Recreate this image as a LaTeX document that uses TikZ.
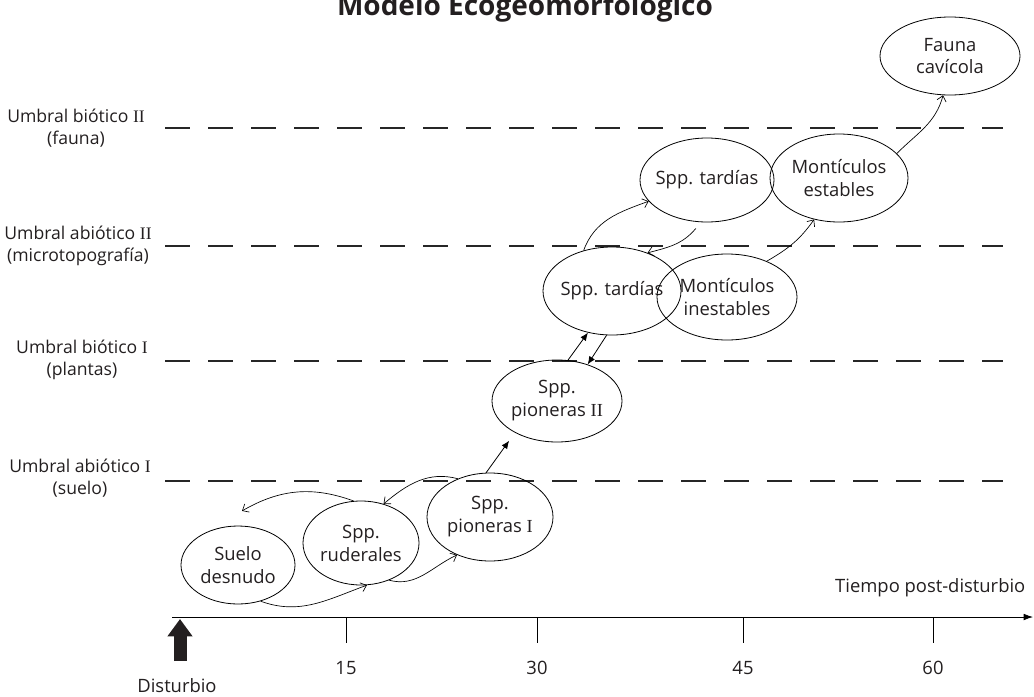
\documentclass[tikz,border=0pt]{standalone}
\usepackage{fontspec}
\setmainfont{Open Sans}
\newfontfamily\rn{Liberation Serif}
\usetikzlibrary{shapes.geometric,arrows.meta}
\definecolor{txt}{RGB}{35,31,32}
\begin{document}
\begin{tikzpicture}[x=0.75pt,y=-0.75pt,
 st/.style={ellipse,draw,line width=0.6pt,inner sep=0pt},
 lt/.style={align=center,font=\fontsize{13.8}{17.2}\selectfont,text=txt},
 thr/.style={line width=2.2pt,dash pattern=on 18.75pt off 13.5pt,color=black!85},
 lab/.style={align=center,font=\fontsize{13.2}{16.5}\selectfont,text=txt},
 cv/.style={-{Straight Barb[length=4pt,width=7pt]},line width=0.5pt},
 fl/.style={-{Latex[length=6pt,width=5pt]},line width=0.6pt},
 num/.style={font=\fontsize{13.8}{15}\selectfont,text=txt}]
\useasboundingbox (0,0) rectangle (1034,696);

% title
\node[anchor=base,font=\bfseries\fontsize{21}{22}\selectfont,text=txt] (title) at (525,15) {Modelo Ecogeomorfológico};

% thresholds
\draw[thr] (165,128) -- (1003,128);
\draw[thr] (165,246) -- (1003,246);
\draw[thr] (165,361) -- (1003,361);
\draw[thr] (165,481) -- (1003,481);
\node[lab] (l1) at (76,128) {Umbral biótico {\rn II}\\(fauna)};
\node[lab] (l2) at (78,246) {Umbral abiótico {\rn II}\\(microtopografía)};
\node[lab] (l3) at (82,360) {Umbral biótico {\rn I}\\(plantas)};
\node[lab] (l4) at (80,478) {Umbral abiótico {\rn I}\\(suelo)};

% states
\node[st,minimum width=85.5pt,minimum height=58.5pt,label={[lt]center:{Suelo\\desnudo}}] (suelo) at (238,565) {};
\node[st,minimum width=87pt,minimum height=63pt,label={[lt]center:{Spp.\\ruderales}}] (rud) at (361,543) {};
\node[st,minimum width=94.5pt,minimum height=66pt,label={[lt]center:{Spp.\\pioneras {\rn I}}}] (pI) at (490,517) {};
\node[st,minimum width=97.5pt,minimum height=61.5pt,label={[lt]center:{Spp.\\pioneras {\rn II}}}] (pII) at (557,401) {};
\node[st,minimum width=103.5pt,minimum height=66pt,label={[lt]center:{Spp. tardías}}] (T1) at (612,291) {};
\node[st,minimum width=105pt,minimum height=64.5pt,label={[lt]center:{Montículos\\inestables}}] (M1) at (727,297) {};
\node[st,minimum width=100.5pt,minimum height=63pt,label={[lt]center:{Spp. tardías}}] (T2) at (707,180) {};
\node[st,minimum width=103.5pt,minimum height=66pt,label={[lt]center:{Montículos\\estables}}] (M2) at (839,178) {};
\node[st,minimum width=105pt,minimum height=58.5pt,label={[lt]center:{Fauna\\cavícola}}] (F) at (950,56) {};

% transitions
\draw[cv] (rud.100) to[out=160,in=30] ([xshift=3pt,yshift=11pt]suelo.north);
\draw[cv] (pI.130) to[out=165,in=40] (rud.60);
\draw[cv] (suelo.-58) to[out=-20,in=200] (rud.-82);
\draw[cv] (rud.-53) to[out=-15,in=205] (pI.-131);
\draw[fl] (pI.95) -- ([xshift=-3pt,yshift=-6.75pt]pII.-145);
\draw[fl] (pII.75) -- (T1.-120);
\draw[fl] (T1.-97) -- (pII.50);
\draw[cv] (T1.125) to[out=70,in=200] (T2.-160);
\draw[cv] ([yshift=-5pt]T2.-105) to[out=-130,in=15] (T1.47);
\draw[cv] (M1.42) to[out=30,in=235] (M2.-121);
\draw[cv] (M2.23) to[out=45,in=255] (F.-100);

% time axis
\coordinate (a0) at (172,617);
\coordinate (a1) at (1033,617);
\draw[-{Latex[length=7pt,width=5pt]},line width=0.6pt] (a0) -- (a1);
\foreach \x/\t in {346/15,537/30,743/45,933/60}{
  \draw[line width=0.4pt] (\x,617) -- (\x,643);
  \node[num] (n\t) at (\x,668) {\t};
}
\node[anchor=east,num] (tiempo) at (1030,588) {Tiempo post-disturbio};
\coordinate (d0) at (180,661);
\coordinate (d1) at (180,619);
\draw[line width=9.75pt,-{Triangle[length=13pt,width=18pt]},color=txt] (d0) -- (d1);
\node[num] (dist) at (177,686) {Disturbio};
\end{tikzpicture}
\end{document}
